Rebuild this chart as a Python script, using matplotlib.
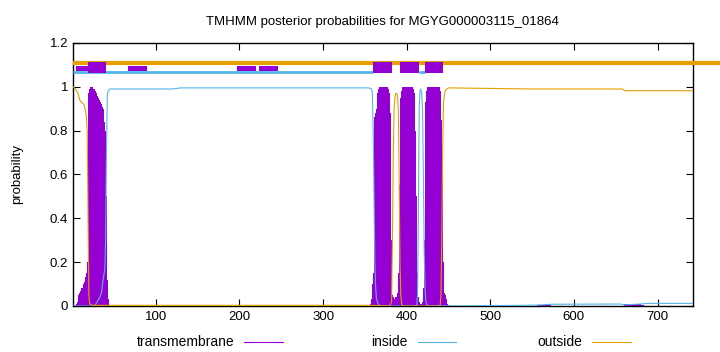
import matplotlib
matplotlib.use("Agg")
import matplotlib.pyplot as plt
from matplotlib.lines import Line2D
from matplotlib.patches import Rectangle

plt.rcParams['font.family'] = ['Liberation Sans', 'DejaVu Sans']
plt.rcParams['font.size'] = 9.5

TITLE = "TMHMM posterior probabilities for MGYG000003115_01864"
SEQ_LEN = 742
C_TM = "#9400d3"
C_IN = "#56b4e9"
C_OUT = "#e69f00"

# transmembrane posterior, per residue, regions where it is not ~0
tm1_start = 1
tm1 = [0, 0, 0, 0.005, 0.01, 0.02, 0.03, 0.05, 0.06, 0.07, 0.08, 0.08, 0.09, 0.10,
       0.11, 0.13, 0.15, 0.20, 0.55, 0.97, 0.99, 1.0, 1.0, 1.0, 1.0, 0.99, 0.99, 0.98,
       0.97, 0.96, 0.95, 0.94, 0.94, 0.93, 0.92, 0.91, 0.90, 0.88, 0.84, 0.80, 0.5,
       0.12, 0.03, 0.01, 0.005]
tm2_start = 355
tm2 = [0.0, 0.005, 0.01, 0.03, 0.10, 0.15, 0.2, 0.86, 0.88, 0.9, 0.97, 0.99,
       1.0, 1.0, 1.0, 1.0, 1.0, 1.0, 1.0, 1.0, 1.0, 1.0, 1.0, 0.99, 0.97, 0.93, 0.88,
       0.3, 0.05, 0.04, 0.03, 0.03, 0.04, 0.04, 0.06, 0.15, 0.55, 0.85, 0.95, 0.98,
       1.0, 1.0, 1.0, 1.0, 1.0, 1.0, 1.0, 1.0, 1.0, 1.0, 1.0, 1.0, 1.0, 0.99, 0.97,
       0.92, 0.8, 0.5, 0.15, 0.04, 0.02, 0.01, 0.01, 0.01, 0.02, 0.08, 0.3, 0.75, 0.93,
       0.98, 1.0, 1.0, 1.0, 1.0, 1.0, 1.0, 1.0, 1.0, 1.0, 1.0, 1.0, 1.0, 1.0, 1.0, 1.0,
       0.98, 0.95, 0.85, 0.6, 0.2, 0.06, 0.05, 0.04, 0.03, 0.01, 0.005]
tm3_start = 556
tm3 = [0.004, 0.004, 0.005, 0.005, 0.005, 0.005, 0.005, 0.005, 0.005, 0.005,
       0.005, 0.005, 0.005, 0.004, 0.004, 0.004, 0.003]
tm4_start = 660
tm4 = [0.006, 0.007, 0.008, 0.008, 0.009, 0.009, 0.009, 0.009, 0.009, 0.009,
       0.009, 0.009, 0.009, 0.009, 0.009, 0.009, 0.008, 0.008, 0.008, 0.007,
       0.007, 0.006, 0.005, 0.004]

inside_x = [1, 27, 30, 33, 35, 37, 39, 40, 41, 42, 43, 45, 120, 130, 355, 358,
            359, 360, 361, 362, 363, 364, 366, 368, 412, 413, 414, 415, 416, 417,
            418, 419, 420, 421, 422, 423, 425, 540, 560, 575, 655, 662, 683, 690, 742]
inside_y = [0.0, 0.0, 0.02, 0.04, 0.06, 0.12, 0.17, 0.3, 0.7, 0.96, 0.98, 0.99,
            0.99, 0.995, 0.995, 0.99, 0.97, 0.8, 0.5, 0.2, 0.08, 0.03, 0.01, 0.0,
            0.0, 0.05, 0.4, 0.9, 0.98, 0.99, 0.97, 0.9, 0.6, 0.25, 0.08, 0.02, 0.0,
            0.003, 0.005, 0.008, 0.009, 0.005, 0.01, 0.012, 0.012]

outside_x = [1, 4, 7, 9, 11, 14, 16, 17, 18, 19, 20, 21, 24, 355, 380, 382, 383,
             384, 385, 386, 387, 388, 389, 390, 391, 392, 393, 394, 395, 440, 441,
             442, 443, 444, 445, 446, 448, 450, 550, 658, 661, 742]
outside_y = [1.0, 0.99, 0.97, 0.94, 0.93, 0.92, 0.89, 0.86, 0.80, 0.4, 0.05, 0.01,
             0.003, 0.003, 0.0, 0.02, 0.3, 0.7, 0.9, 0.95, 0.97, 0.97, 0.96, 0.9,
             0.6, 0.2, 0.05, 0.01, 0.0, 0.0, 0.05, 0.3, 0.7, 0.92, 0.96, 0.98, 0.99,
             0.995, 0.99, 0.99, 0.982, 0.982]

# topology bars along the top
tm_thick = [(19, 41), (360, 383), (392, 415), (422, 444)]
tm_thin = [(5, 19), (67, 89), (197, 220), (224, 246)]
inside_bars = [(1, 360), (415, 422)]

fig = plt.figure(figsize=(7.2, 3.52), dpi=100)
ax = fig.add_axes([0.1014, 0.1307, 0.8606, 0.7473])

for start, vals in [(tm1_start, tm1), (tm2_start, tm2), (tm3_start, tm3), (tm4_start, tm4)]:
    xs = list(range(start, start + len(vals)))
    ax.bar(xs, vals, width=1.0, color=C_TM, linewidth=0, zorder=2)

ax.plot(inside_x, inside_y, color=C_IN, lw=0.8, zorder=3)
ax.plot(outside_x, outside_y, color=C_OUT, lw=0.8, zorder=3)

ax.plot([1, 790], [1.11, 1.11], color=C_OUT, lw=3, solid_capstyle='butt',
        clip_on=False, zorder=4)
for a, b in inside_bars:
    ax.plot([a, b], [1.068, 1.068], color=C_IN, lw=2, solid_capstyle='butt', zorder=5)
for a, b in tm_thin:
    ax.add_patch(Rectangle((a, 1.073), b - a, 0.023, color=C_TM, lw=0, zorder=6))
for a, b in tm_thick:
    ax.add_patch(Rectangle((a, 1.063), b - a, 0.048, color=C_TM, lw=0, zorder=6))

ax.set_xlim(1, SEQ_LEN)
ax.set_ylim(0, 1.2)
ax.set_xticks([100, 200, 300, 400, 500, 600, 700])
ax.set_yticks([0, 0.2, 0.4, 0.6, 0.8, 1.0, 1.2])
ax.set_yticklabels(["0", "0.2", "0.4", "0.6", "0.8", "1", "1.2"])
ax.tick_params(direction='in', length=5, top=True, right=True, width=0.8)
for s in ax.spines.values():
    s.set_linewidth(1.0)
ax.set_ylabel("probability")
ax.yaxis.set_label_coords(-0.08, 0.5)
ax.set_title(TITLE, fontsize=9.5, pad=13)

# legend along the bottom, text then sample
leg_y = 1 - 342 / 352
for label, tx, l0, l1, col in [("transmembrane", 234, 244, 283, C_TM),
                                ("inside", 408, 418, 456, C_IN),
                                ("outside", 582, 592, 631, C_OUT)]:
    fig.text(tx / 720, leg_y, label, ha='right', va='center', fontsize=10)
    fig.add_artist(Line2D([l0 / 720, l1 / 720], [leg_y, leg_y], color=col, lw=0.8))

fig.savefig("out.png", dpi=100)
